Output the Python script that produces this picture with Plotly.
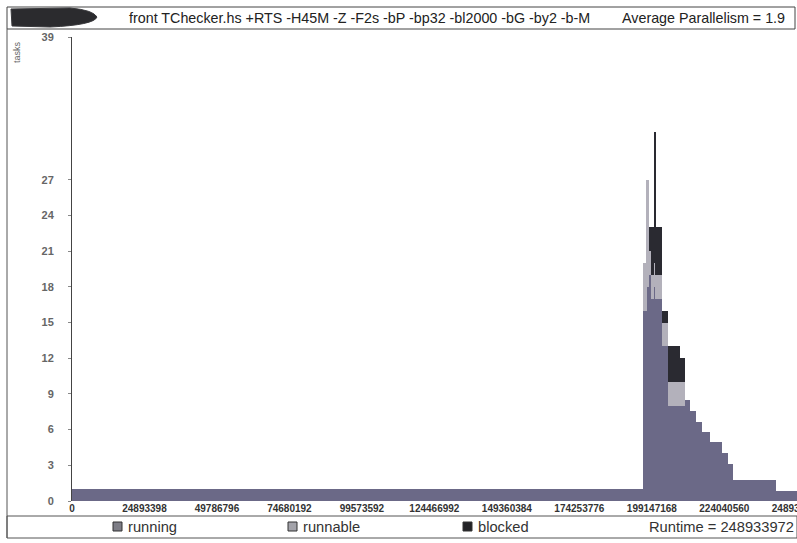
import plotly.graph_objects as go

# ---------------- data ----------------
RUNTIME = 248933972
step_start = [0, 196.1e6, 197.4e6, 198.0e6, 198.9e6, 199.9e6, 200.4e6, 202.6e6,
              204.7e6, 206.1e6, 208.8e6, 210.5e6, 212.3e6, 214.3e6, 216.4e6,
              219.1e6, 223.2e6, 225.3e6, 227.0e6, 241.8e6]
running = [1, 16, 18, 19, 17, 18, 17, 13, 8, 8, 8, 8.5, 7.6, 6.6, 5.8, 5.0, 4.0, 3.1, 1.8, 0.8]
runnable = [0, 4, 9, 2, 2, 2, 2, 2, 2, 2, 2, 0, 0, 0, 0, 0, 0, 0, 0, 0]
blocked = [0, 0, 0, 2, 4, 11, 4, 1, 3, 3, 2, 0, 0, 0, 0, 0, 0, 0, 0, 0]

x_tickvals = [0, 24893398, 49786796, 74680192, 99573592, 124466992, 149360384,
              174253776, 199147168, 224040560, 248933950]
x_ticktext = ["0", "24893398", "49786796", "74680192", "99573592", "124466992",
              "149360384", "174253776", "199147168", "224040560", "248933950"]
y_tickvals = [0, 3, 6, 9, 12, 15, 18, 21, 24, 27, 39]

title_text = "front TChecker.hs +RTS -H45M -Z -F2s -bP -bp32 -bl2000 -bG -by2 -b-M"
avg_par_text = "Average Parallelism = 1.9"
series_names = ["running", "runnable", "blocked"]
runtime_text = "Runtime = " + str(RUNTIME)

# ---------------- layout helpers ----------------
W, H = 797, 543
L, R, T, B = 72, 0, 37, 42
PW, PH = W - L - R, H - T - B


def px(xp):
    return (xp - L) / PW


def py(yp):
    return (H - B - yp) / PH


edges = step_start + [RUNTIME]
centers = [(edges[i] + edges[i + 1]) / 2 for i in range(len(step_start))]
widths = [edges[i + 1] - edges[i] for i in range(len(step_start))]

colors = {"running": "#6b6987", "runnable": "#b3b1bb", "blocked": "#2a2a31"}
icon_colors = {"running": "#7d7d86", "runnable": "#a3a3aa", "blocked": "#222226"}

fig = go.Figure()
for name, vals in zip(series_names, [running, runnable, blocked]):
    fig.add_trace(go.Bar(x=centers, y=vals, width=widths, name=name,
                         marker=dict(color=colors[name], line=dict(width=0)),
                         showlegend=False))

font = "Liberation Sans, Arial, Helvetica, sans-serif"

shapes = []
# title box
shapes.append(dict(type="rect", xref="paper", yref="paper",
                   x0=px(7), x1=px(795), y0=py(29), y1=py(7),
                   line=dict(color="#444", width=1), fillcolor="rgba(0,0,0,0)"))
# dark blob at left of title bar
blob = (f"M {px(11)},{py(9)} L {px(70)},{py(8)} Q {px(93)},{py(10)} {px(97)},{py(17)} "
        f"Q {px(94)},{py(25)} {px(50)},{py(27)} L {px(12)},{py(26)} Z")
shapes.append(dict(type="path", xref="paper", yref="paper", path=blob,
                   fillcolor="#2b2b2e", line=dict(color="#3a3a3d", width=1)))
# outer left frame line
shapes.append(dict(type="line", xref="paper", yref="paper",
                   x0=px(7), x1=px(7), y0=py(29), y1=py(538),
                   line=dict(color="#555", width=1)))
# legend box
shapes.append(dict(type="rect", xref="paper", yref="paper",
                   x0=px(7), x1=px(797), y0=py(538), y1=py(516),
                   line=dict(color="#555", width=1), fillcolor="rgba(0,0,0,0)"))

annotations = [
    dict(text=title_text, x=px(127), y=py(18), xref="paper", yref="paper",
         xanchor="left", yanchor="middle", showarrow=False,
         font=dict(family=font, size=14.3, color="#222")),
    dict(text=avg_par_text, x=px(787), y=py(18), xref="paper", yref="paper",
         xanchor="right", yanchor="middle", showarrow=False,
         font=dict(family=font, size=14.3, color="#222")),
    dict(text="tasks", x=px(17), y=py(52), xref="paper", yref="paper",
         xanchor="center", yanchor="middle", textangle=-90, showarrow=False,
         font=dict(family=font, size=9, color="#666")),
    dict(text=runtime_text, x=px(647), y=py(527), xref="paper", yref="paper",
         xanchor="left", yanchor="middle", showarrow=False,
         font=dict(family=font, size=14.7, color="#333")),
]

legend_x = [113, 288, 463]
for name, lx in zip(series_names, legend_x):
    shapes.append(dict(type="rect", xref="paper", yref="paper",
                       x0=px(lx), x1=px(lx + 9), y0=py(531), y1=py(522),
                       fillcolor=icon_colors[name], line=dict(color="#333", width=1)))
    annotations.append(dict(text=name, x=px(lx + 13), y=py(527), xref="paper",
                            yref="paper", xanchor="left", yanchor="middle",
                            showarrow=False,
                            font=dict(family=font, size=14.7, color="#333")))

fig.update_layout(
    width=W, height=H,
    margin=dict(l=L, r=R, t=T, b=B, pad=0, autoexpand=False),
    paper_bgcolor="white", plot_bgcolor="white",
    barmode="stack", bargap=0,
    shapes=shapes, annotations=annotations,
    xaxis=dict(range=[0, 249.0e6], tickmode="array", tickvals=x_tickvals,
               ticktext=x_ticktext, tickangle=0, showgrid=False, zeroline=False,
               showline=False, ticks="", ticklabeloverflow="allow", automargin=False,
               tickfont=dict(family=font, size=10, color="#333", weight="bold")),
    yaxis=dict(range=[0, 39], tickmode="array", tickvals=y_tickvals,
               showgrid=False, zeroline=False, showline=True, linecolor="#444",
               linewidth=1, ticks="outside", ticklen=3, tickcolor="#888",
               ticklabelstandoff=12, automargin=False,
               tickfont=dict(family=font, size=11, color="#666", weight="bold")),
)

fig.write_html("out.html", config={"displayModeBar": False},
               post_script="document.body.style.margin='0';document.body.style.overflow='hidden';")
